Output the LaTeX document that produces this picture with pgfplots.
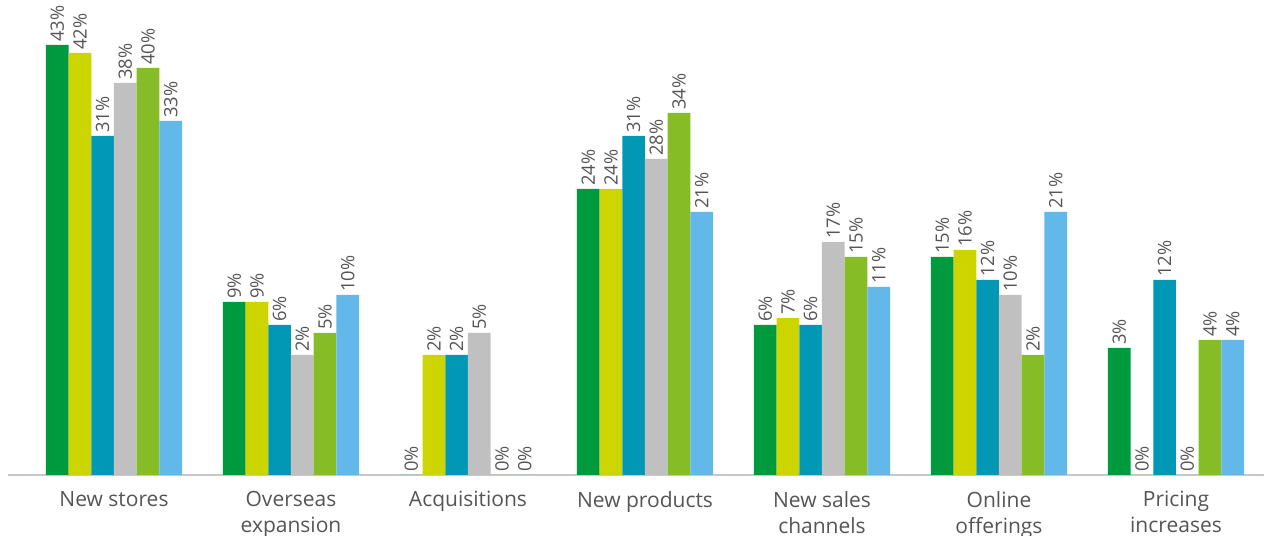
\documentclass[border=0pt]{standalone}
\usepackage{pgfplots}
\usepackage{pgfplotstable}
\pgfplotsset{compat=1.18}
\usepackage{fontspec}
\setmainfont{Open Sans}
\definecolor{cA}{RGB}{0,154,62}
\definecolor{cB}{RGB}{205,213,0}
\definecolor{cC}{RGB}{0,152,180}
\definecolor{cD}{RGB}{191,192,191}
\definecolor{cE}{RGB}{134,188,37}
\definecolor{cF}{RGB}{98,185,233}
\definecolor{txt}{RGB}{85,85,85}
% x = category index, h = drawn bar height (px, as read), lab = printed value (%)
\pgfplotstableread{
x h lab
0 430 43
1 173 9
2 0 0
3 286 24
4 150 6
5 218 15
6 127 3
}\sA
\pgfplotstableread{
x h lab
0 422 42
1 173 9
2 120 2
3 286 24
4 157 7
5 225 16
6 0 0
}\sB
\pgfplotstableread{
x h lab
0 339 31
1 150 6
2 120 2
3 339 31
4 150 6
5 195 12
6 195 12
}\sC
\pgfplotstableread{
x h lab
0 392 38
1 120 2
2 142 5
3 316 28
4 233 17
5 180 10
6 0 0
}\sD
\pgfplotstableread{
x h lab
0 407 40
1 142 5
2 0 0
3 362 34
4 218 15
5 120 2
6 135 4
}\sE
\pgfplotstableread{
x h lab
0 354 33
1 180 10
2 0 0
3 263 21
4 188 11
5 263 21
6 135 4
}\sF
\begin{document}
\begin{tikzpicture}
\useasboundingbox (0,0) rectangle (633pt,268pt);
\begin{axis}[
  at={(3.9pt,30.5pt)}, anchor=south west,
  scale only axis, width=628.35pt, height=237.5pt,
  xmin=-0.6, xmax=6.5, ymin=0, ymax=475,
  ybar=0pt, bar width=11.35pt,
  axis x line*=bottom, axis y line=none,
  x axis line style={draw={rgb,255:red,200;green,200;blue,200}, line width=0.8pt, -},
  xtick={0,...,6}, major tick length=0pt,
  xticklabels={New stores, Overseas\\expansion, Acquisitions, New products, New sales\\channels, Online\\offerings, Pricing\\increases},
  xticklabel style={font=\fontsize{10.5pt}{13pt}\selectfont, text=txt, align=center, anchor=north, yshift=-4.5pt},
  clip=false,
  point meta=explicit symbolic,
  nodes near coords={\pgfplotspointmeta\%},
  nodes near coords style={rotate=90, anchor=west, font=\fontsize{9.2pt}{10pt}\selectfont, text=txt, inner sep=1.5pt},
]
\addplot[fill=cA, draw=none] table[x=x, y=h, meta=lab] {\sA};
\addplot[fill=cB, draw=none] table[x=x, y=h, meta=lab] {\sB};
\addplot[fill=cC, draw=none] table[x=x, y=h, meta=lab] {\sC};
\addplot[fill=cD, draw=none] table[x=x, y=h, meta=lab] {\sD};
\addplot[fill=cE, draw=none] table[x=x, y=h, meta=lab] {\sE};
\addplot[fill=cF, draw=none] table[x=x, y=h, meta=lab] {\sF};
\end{axis}
\end{tikzpicture}
\end{document}
